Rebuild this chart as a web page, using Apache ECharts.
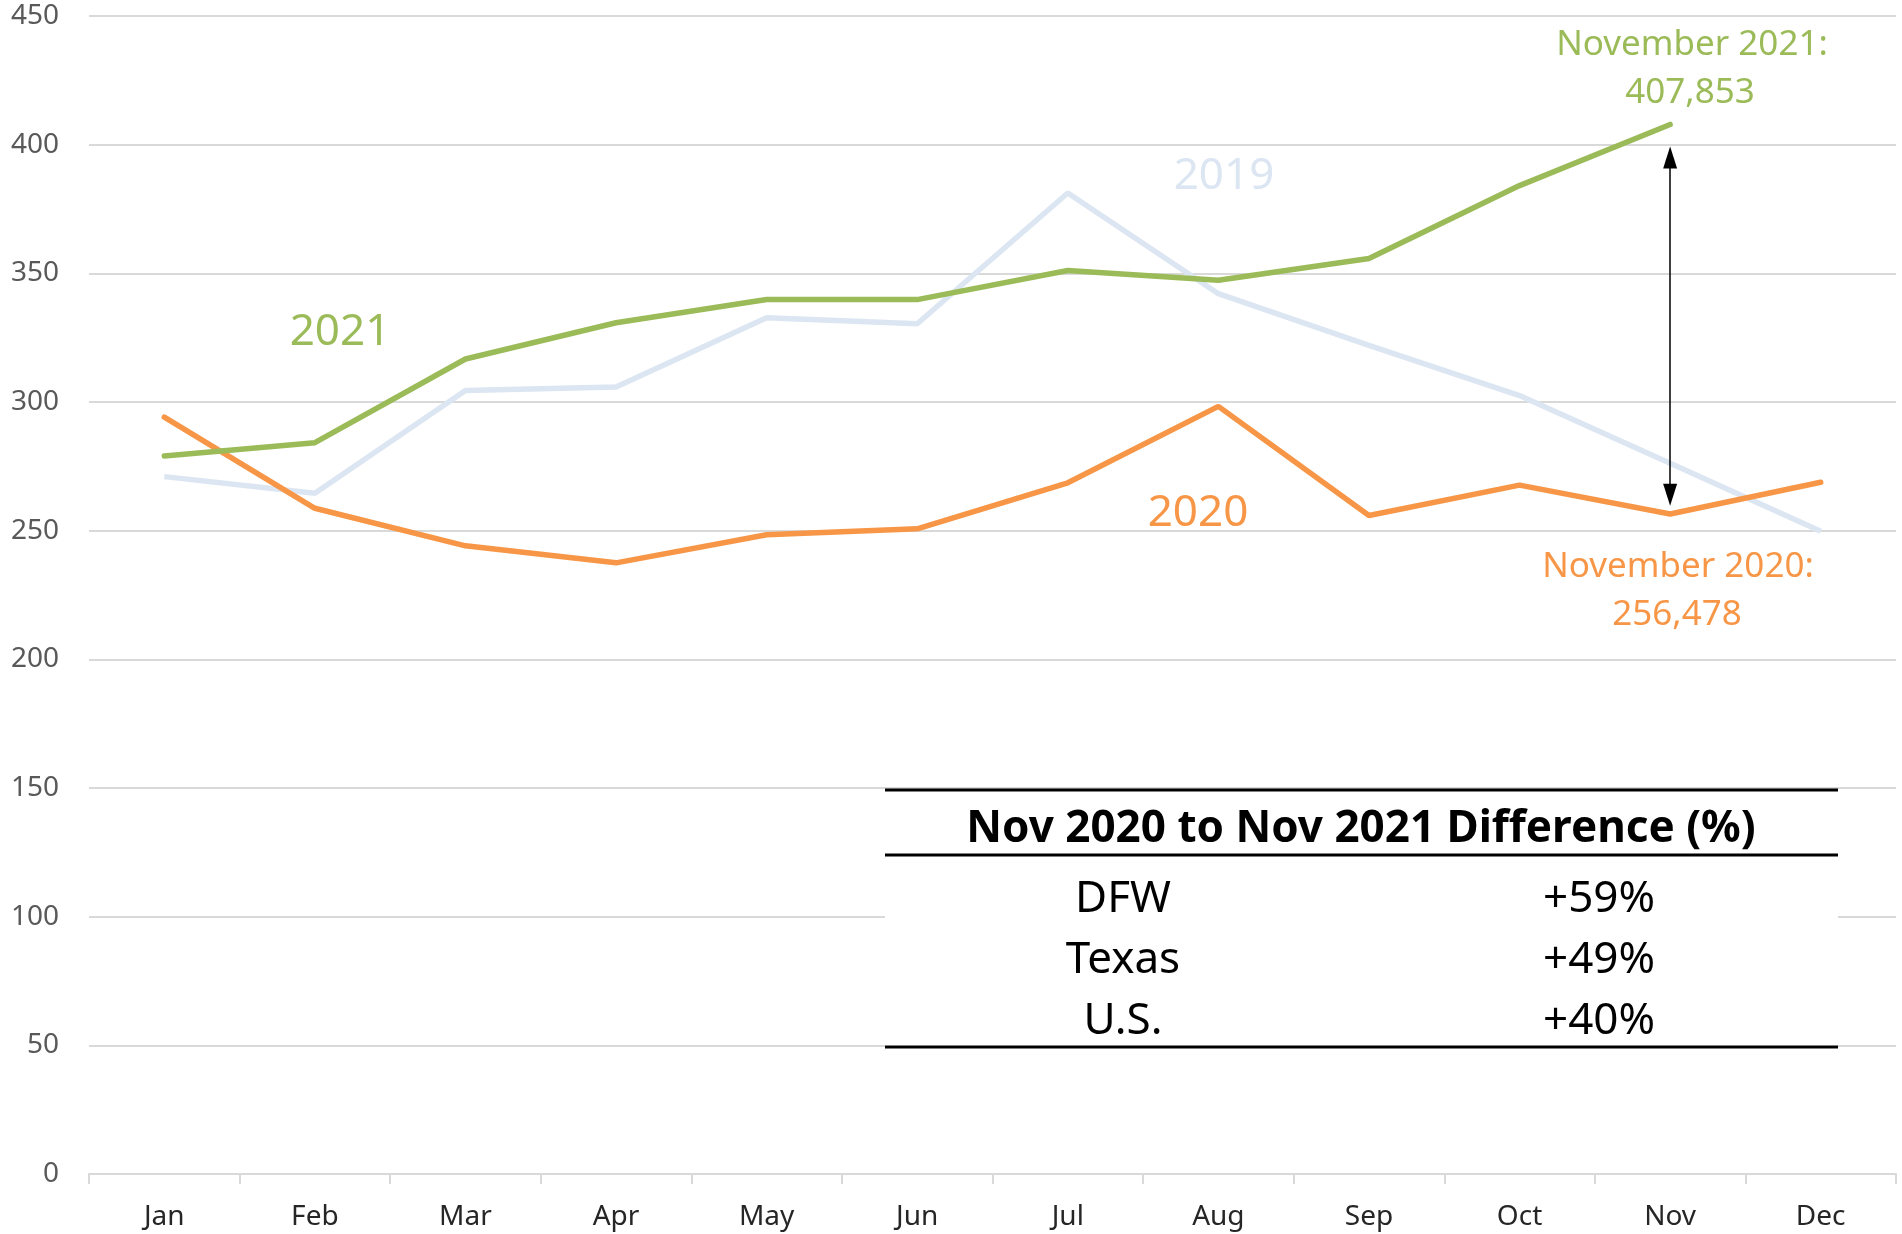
<!DOCTYPE html>
<html>
<head>
<meta charset="utf-8">
<title>Nov 2020 to Nov 2021</title>
<script src="https://cdn.jsdelivr.net/npm/echarts@6/dist/echarts.min.js"></script>
<style>
    html, body { margin: 0; padding: 0; background: #ffffff; }
    #main { width: 1902px; height: 1234px; }
</style>
</head>
<body>
<div id="main"></div>
<script>
    // values in thousands
    const months = ['Jan', 'Feb', 'Mar', 'Apr', 'May', 'Jun', 'Jul', 'Aug', 'Sep', 'Oct', 'Nov', 'Dec'];
    const y2019 = [271, 264.5, 304.5, 305.8, 332.7, 330.4, 381.2, 342.1, 322, 302.5, 276.2, 249.8];
    const y2020 = [294.1, 258.7, 244.1, 237.5, 248.4, 250.7, 268.6, 298.3, 255.9, 267.7, 256.478, 268.8];
    const y2021 = [279, 284.2, 316.7, 330.8, 339.8, 339.8, 351.1, 347.3, 355.8, 384.1, 407.853, null];
    const yTicks = [0, 450, 50];   // min, max, interval

    const tableTitle = 'Nov 2020 to Nov 2021 Difference (%)';
    const tableRegions = ['DFW', 'Texas', 'U.S.'];
    const tableChanges = ['+59%', '+49%', '+40%'];

    const arrowSpan = [264, 395];

    const green = '#9BBB59';
    const orange = '#F79646';
    const lightBlue = '#DCE6F2';
    const font = 'Noto Sans';

    let myChart = echarts.init(document.getElementById('main'));

    // table drawn as graphic elements
    let tableGraphic = [
        { type: 'rect', left: 885, top: 790, shape: { width: 953, height: 257 }, style: { fill: '#ffffff' }, z: 100 },
        { type: 'line', shape: { x1: 885, y1: 790, x2: 1838, y2: 790 }, style: { stroke: '#000', lineWidth: 3 }, z: 101 },
        { type: 'line', shape: { x1: 885, y1: 855, x2: 1838, y2: 855 }, style: { stroke: '#000', lineWidth: 3 }, z: 101 },
        { type: 'line', shape: { x1: 885, y1: 1047, x2: 1838, y2: 1047 }, style: { stroke: '#000', lineWidth: 3 }, z: 101 },
        { type: 'text', x: 1361, y: 829, z: 101,
          style: { text: tableTitle, fill: '#000', font: 'bold 44px "' + font + '"', align: 'center', verticalAlign: 'middle' } }
    ];
    let rowY = [899, 960, 1021];
    tableRegions.forEach(function (r, i) {
        tableGraphic.push({ type: 'text', x: 1123, y: rowY[i], z: 101,
            style: { text: r, fill: '#000', font: '44px "' + font + '"', align: 'center', verticalAlign: 'middle' } });
        tableGraphic.push({ type: 'text', x: 1599, y: rowY[i], z: 101,
            style: { text: tableChanges[i], fill: '#000', font: '44px "' + font + '"', align: 'center', verticalAlign: 'middle' } });
    });

    function note(text, x, y, color, size) {
        return { type: 'text', x: x, y: y, z: 102,
            style: { text: text, fill: color, font: size + 'px "' + font + '"', align: 'center', verticalAlign: 'middle' } };
    }

    let notes = [
        note('2021', 340, 332, green, 44),
        note('2019', 1224, 176, lightBlue, 44),
        note('2020', 1198, 513, orange, 44),
        note('November 2021:', 1692, 45, green, 35),
        note('407,853', 1690, 93, green, 35),
        note('November 2020:', 1678, 567, orange, 35),
        note('256,478', 1677, 615, orange, 35)
    ];

    myChart.setOption({
        animation: false,
        textStyle: { fontFamily: font },
        grid: {
            left: 89,
            right: 6,
            top: 16,
            bottom: 60
        },
        xAxis: {
            type: 'category',
            boundaryGap: true,
            data: months,
            axisLine: { lineStyle: { color: '#D9D9D9', width: 2 } },
            axisTick: { show: true, length: 10, lineStyle: { color: '#D9D9D9', width: 2 } },
            axisLabel: { color: '#262626', fontSize: 28, margin: 29 }
        },
        yAxis: {
            type: 'value',
            min: yTicks[0],
            max: yTicks[1],
            interval: yTicks[2],
            axisLine: { show: false },
            axisTick: { show: false },
            axisLabel: { color: '#595959', fontSize: 28, margin: 30 },
            splitLine: { lineStyle: { color: '#D9D9D9', width: 2 } }
        },
        series: [
            {
                name: '2019',
                type: 'line',
                data: y2019,
                symbol: 'none',
                lineStyle: { color: lightBlue, width: 5.5 },
                z: 2
            },
            {
                name: '2020',
                type: 'line',
                data: y2020,
                symbol: 'none',
                lineStyle: { color: orange, width: 5.5, cap: 'round' },
                z: 3
            },
            {
                name: '2021',
                type: 'line',
                data: y2021,
                symbol: 'none',
                lineStyle: { color: green, width: 5.5, cap: 'round' },
                z: 4,
                markLine: {
                    silent: true,
                    symbol: ['triangle', 'triangle'],
                    symbolSize: [14, 22],
                    label: { show: false },
                    lineStyle: { color: '#000000', width: 1.5, type: 'solid' },
                    data: [[{ coord: ['Nov', arrowSpan[0]] }, { coord: ['Nov', arrowSpan[1]] }]]
                }
            }
        ],
        graphic: tableGraphic.concat(notes)
    });
</script>
</body>
</html>
